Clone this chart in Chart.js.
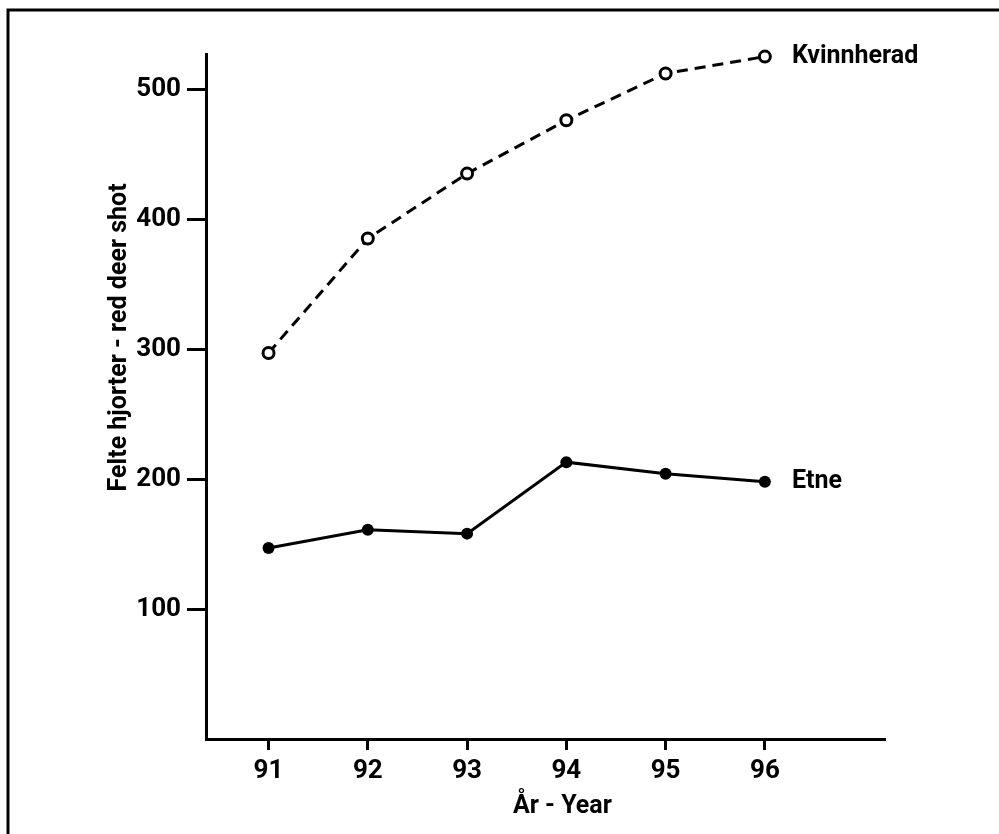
<!DOCTYPE html>
<html>
<head>
<meta charset="utf-8">
<script src="https://cdn.jsdelivr.net/npm/chart.js@4"></script>
<style>
  html, body { margin: 0; padding: 0; background: #fff; }
  #wrap { width: 999px; height: 834px; }
</style>
</head>
<body>
<div id="wrap"><canvas id="deerchart"></canvas></div>
<script>
// Years on the x axis (91 = 1991)
var years = [91, 92, 93, 94, 95, 96];
// Red deer shot per year
var kvinnherad = [297, 385, 435, 476, 512, 525];
var etne = [147, 161, 158, 213, 204, 198];
// Tick labels
var yTicks = [100, 200, 300, 400, 500];
var xTicks = [91, 92, 93, 94, 95, 96];

var FONT = 'Roboto, "Open Sans", sans-serif';

// Series names next to the last point, axis titles and the outer frame
var labelsPlugin = {
    id: 'labels',
    beforeDraw: function(chart) {
        var c = chart.ctx;
        c.save();
        c.strokeStyle = '#000';
        c.lineWidth = 3;
        c.beginPath();
        c.moveTo(8, 834);
        c.lineTo(8, 10);
        c.lineTo(999, 10);
        c.stroke();
        c.restore();
    },
    afterDraw: function(chart) {
        var c = chart.ctx;
        var x = chart.scales.x, y = chart.scales.y;
        c.save();
        c.fillStyle = '#000';
        c.font = 'bold 25px ' + FONT;
        c.textBaseline = 'middle';
        c.textAlign = 'left';
        chart.data.datasets.forEach(function(ds, i) {
            var pts = chart.getDatasetMeta(i).data;
            var p = pts[pts.length - 1];
            c.fillText(ds.label, p.x + 27, p.y);
        });
        // x axis title
        c.textAlign = 'center';
        c.fillText('År - Year', x.getPixelForValue(93.96), 807);
        // y axis title
        c.translate(120, y.getPixelForValue(309));
        c.rotate(-Math.PI / 2);
        c.fillText('Felte hjorter - red deer shot', 0, 0);
        c.restore();
    }
};

var ctx = document.getElementById('deerchart').getContext('2d');
var deerchart = new Chart(ctx, {
    type: 'line',
    data: {
        datasets: [{
            label: 'Kvinnherad',
            data: years.map(function(yr, i) { return { x: yr, y: kvinnherad[i] }; }),
            borderColor: '#000',
            borderWidth: 3,
            borderDash: [11, 7],
            pointRadius: 5.5,
            pointBorderWidth: 3,
            pointBackgroundColor: '#fff',
            pointBorderColor: '#000',
            clip: false,
            tension: 0
        }, {
            label: 'Etne',
            data: years.map(function(yr, i) { return { x: yr, y: etne[i] }; }),
            borderColor: '#000',
            borderWidth: 3,
            pointRadius: 6,
            pointBorderWidth: 0,
            pointBackgroundColor: '#000',
            clip: false,
            tension: 0
        }]
    },
    options: {
        responsive: true,
        maintainAspectRatio: false,
        animation: false,
        layout: { padding: { top: 54, right: 115, left: 0, bottom: 0 } },
        scales: {
            x: {
                type: 'linear',
                min: 90.37,
                max: 97.2,
                afterBuildTicks: function(s) { s.ticks = xTicks.map(function(v) { return { value: v }; }); },
                afterFit: function(s) { s.height = 95; },
                border: { color: '#000', width: 3 },
                grid: { drawOnChartArea: false, drawTicks: true, tickLength: 11, color: '#000', lineWidth: 3 },
                ticks: { color: '#000', padding: 6, font: { family: FONT, size: 26, weight: 'bold' }, maxRotation: 0 }
            },
            y: {
                min: 0,
                max: 527,
                afterBuildTicks: function(s) { s.ticks = yTicks.map(function(v) { return { value: v }; }); },
                afterFit: function(s) { s.width = 206; },
                border: { color: '#000', width: 3 },
                grid: { drawOnChartArea: false, drawTicks: true, tickLength: 19, color: '#000', lineWidth: 3 },
                ticks: { color: '#000', padding: 6, font: { family: FONT, size: 26, weight: 'bold' } }
            }
        },
        plugins: {
            legend: { display: false },
            tooltip: { enabled: false }
        }
    },
    plugins: [labelsPlugin]
});
</script>
</body>
</html>
